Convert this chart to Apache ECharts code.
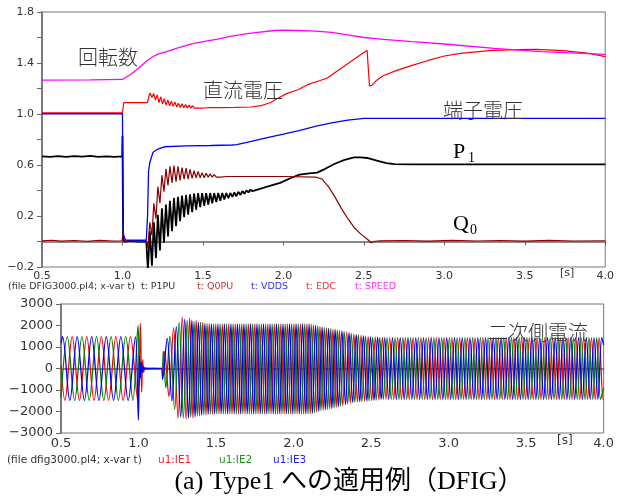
<!DOCTYPE html>
<html><head><meta charset="utf-8">
<script src="https://cdn.jsdelivr.net/npm/echarts@6/dist/echarts.min.js"></script>
<style>html,body{margin:0;padding:0;background:#fff}#c{width:617px;height:497px}</style>
</head><body><div id="c"></div>
<script>
// ---- top chart data: [t (s), value (pu)] ----
const p1pu = [[0.5,0.668],[0.55,0.664],[0.6,0.67],[0.65,0.663],[0.7,0.669],[0.75,0.665],[0.8,0.671],[0.85,0.664],[0.9,0.668],[0.95,0.663],[0.998,0.668],[1.0,0.83],[1.004,0.05],[1.01,0.0],[1.05,0.005],[1.1,0.0],[1.148,0.0],
[1.158,-0.22],[1.17,0.08],[1.183,-0.19],[1.195,0.15],[1.208,-0.13],[1.22,0.21],[1.233,-0.07],[1.245,0.26],[1.258,-0.01],[1.27,0.29],[1.283,0.04],[1.295,0.32],[1.308,0.08],[1.32,0.34],[1.333,0.12],[1.345,0.35],[1.358,0.16],[1.37,0.36],[1.383,0.19],[1.395,0.365],[1.408,0.21],[1.42,0.37],[1.433,0.23],[1.445,0.375],[1.458,0.25],[1.47,0.38],[1.483,0.27],[1.495,0.38],[1.508,0.28],[1.52,0.38],[1.533,0.29],[1.545,0.38],[1.558,0.30],[1.57,0.38],[1.583,0.31],[1.595,0.38],[1.608,0.32],[1.62,0.38],[1.633,0.33],[1.645,0.38],[1.658,0.34],[1.67,0.38],[1.683,0.35],[1.695,0.385],[1.708,0.355],[1.72,0.39],[1.733,0.365],[1.745,0.395],[1.758,0.375],[1.77,0.40],[1.783,0.385],[1.795,0.405],[1.808,0.395],[1.82,0.41],
[1.9,0.43],[1.98,0.46],[2.05,0.5],[2.1,0.525],[2.16,0.535],[2.21,0.54],[2.26,0.57],[2.32,0.61],[2.38,0.64],[2.44,0.66],[2.48,0.66],[2.52,0.655],[2.58,0.635],[2.64,0.615],[2.69,0.607],[2.8,0.605],[3.0,0.605],[3.5,0.605],[4.0,0.605]];
const q0pu = [[0.5,0.005],[0.56,0.01],[0.62,0.003],[0.7,0.008],[0.78,0.002],[0.86,0.009],[0.94,0.004],[0.998,0.006],[1.001,0.05],[1.005,0.0],[1.05,0.005],[1.1,0.0],[1.15,0.0],
[1.158,-0.05],[1.17,0.15],[1.183,0.05],[1.195,0.30],[1.208,0.18],[1.22,0.43],[1.233,0.30],[1.245,0.52],[1.258,0.39],[1.27,0.57],[1.283,0.44],[1.295,0.59],[1.308,0.46],[1.32,0.595],[1.333,0.47],[1.345,0.59],[1.358,0.48],[1.37,0.58],[1.383,0.49],[1.395,0.575],[1.408,0.49],[1.42,0.565],[1.433,0.495],[1.445,0.555],[1.458,0.50],[1.47,0.55],[1.483,0.50],[1.495,0.54],[1.508,0.50],[1.52,0.535],[1.533,0.505],[1.545,0.53],[1.558,0.505],[1.57,0.525],[1.583,0.505],[1.595,0.52],[1.608,0.505],[1.62,0.518],[1.65,0.51],
[1.8,0.51],[2.0,0.51],[2.2,0.505],[2.24,0.49],[2.28,0.43],[2.32,0.35],[2.36,0.26],[2.4,0.18],[2.44,0.11],[2.48,0.06],[2.52,0.02],[2.545,-0.01],[2.56,0.0],[2.6,0.005],[2.75,0.008],[2.9,0.003],[3.05,0.009],[3.2,0.004],[3.35,0.008],[3.5,0.003],[3.65,0.009],[3.8,0.004],[4.0,0.006]];
const vdds = [[0.5,1.002],[1.0,1.002],[1.003,0.3],[1.006,0.06],[1.012,0.03],[1.02,0.012],[1.08,0.01],[1.148,0.01],[1.156,0.2],[1.162,0.55],[1.17,0.62],[1.19,0.70],[1.22,0.725],[1.26,0.743],[1.4,0.75],[1.55,0.753],[1.68,0.757],[1.71,0.76],[1.8,0.785],[1.9,0.815],[2.0,0.842],[2.09,0.867],[2.21,0.906],[2.3,0.93],[2.4,0.952],[2.5,0.966],[3.0,0.966],[4.0,0.966]];
const edc = [[0.5,1.01],[1.0,1.01],[1.004,1.01],[1.008,1.09],[1.1,1.09],[1.155,1.09],[1.165,1.14],
[1.172,1.165],[1.183,1.13],[1.194,1.16],[1.205,1.11],[1.216,1.15],[1.227,1.09],[1.238,1.135],[1.249,1.08],[1.26,1.12],[1.271,1.07],[1.282,1.11],[1.293,1.065],[1.304,1.10],[1.315,1.06],[1.326,1.095],[1.337,1.055],[1.348,1.085],[1.359,1.05],[1.37,1.08],[1.381,1.05],[1.392,1.075],[1.403,1.048],[1.414,1.07],[1.425,1.046],[1.436,1.065],[1.447,1.046],[1.458,1.06],[1.469,1.046],[1.48,1.058],[1.491,1.046],[1.502,1.055],[1.513,1.047],[1.524,1.053],[1.54,1.05],
[1.6,1.05],[1.7,1.052],[1.8,1.055],[1.86,1.065],[1.92,1.09],[1.96,1.12],[2.02,1.16],[2.09,1.19],[2.15,1.23],[2.21,1.255],[2.27,1.28],[2.52,1.50],[2.535,1.22],[2.55,1.225],[2.58,1.265],[2.62,1.30],[2.7,1.34],[2.81,1.385],[2.9,1.42],[3.0,1.455],[3.1,1.475],[3.28,1.497],[3.45,1.505],[3.57,1.507],[3.74,1.497],[3.9,1.475],[4.0,1.45]];
const speed = [[0.5,1.265],[0.8,1.268],[1.0,1.271],[1.008,1.272],[1.05,1.31],[1.1,1.358],[1.15,1.415],[1.183,1.445],[1.22,1.47],[1.264,1.486],[1.35,1.52],[1.43,1.55],[1.51,1.57],[1.6,1.59],[1.676,1.61],[1.8,1.635],[1.944,1.655],[2.0,1.658],[2.09,1.655],[2.2,1.65],[2.3,1.64],[2.4,1.62],[2.5,1.60],[2.62,1.586],[2.8,1.567],[3.0,1.549],[3.31,1.515],[3.6,1.49],[4.0,1.468]];

// ---- bottom chart data: rotor currents, [t (s), A] extrema ----
const ie1 = [[0.5,150],[0.525,-1480],[0.572,1480],[0.619,-1480],[0.666,1480],[0.713,-1480],[0.76,1480],[0.807,-1480],[0.854,1480],[0.901,-1480],[0.948,1480],[0.995,-1480],[1.012,2100],[1.02,-1100],[1.027,400],[1.033,-200],[1.04,50],[1.05,0],[1.1,10],[1.15,0],
[1.155,-300],[1.168,800],[1.196,-1300],[1.226,1900],[1.255,-2300],[1.282,2400],[1.307,-2350],[1.33,2350],[1.351,-2300],[1.372,2250],[1.393,-2200],[1.414,2150],[1.435,-2150],[1.456,2100],[1.477,-2120],
[1.498,2080],[1.519,-2110],[1.54,2080],[1.561,-2110],[1.582,2080],[1.603,-2110],[1.624,2080],[1.645,-2110],[1.666,2080],[1.687,-2110],[1.708,2080],[1.729,-2110],[1.75,2080],[1.771,-2110],[1.792,2080],[1.813,-2110],[1.834,2080],[1.855,-2110],[1.876,2080],[1.897,-2110],[1.918,2080],[1.939,-2110],[1.96,2080],[1.981,-2110],[2.002,2080],[2.023,-2110],[2.044,2080],[2.065,-2110],[2.086,2080],[2.107,-2100],[2.128,2040],[2.149,-2030],[2.17,1960],[2.191,-1940],[2.212,1890],[2.233,-1880],[2.254,1830],[2.275,-1810],[2.296,1775],[2.317,-1720],[2.343,1690],[2.366,-1610],[2.389,1600],[2.412,-1550],[2.435,1540],[2.458,-1515],[2.481,1485],[2.504,-1490],[2.527,1458],[2.55,-1450],[2.573,1445],[2.596,-1430],[2.62,1440],
[2.646,-1430],[2.671,1440],[2.696,-1430],[2.721,1440],[2.746,-1430],[2.771,1440],[2.796,-1430],[2.821,1440],[2.846,-1430],[2.871,1440],[2.896,-1430],[2.921,1440],[2.946,-1430],[2.971,1440],[2.996,-1430],[3.021,1440],[3.046,-1430],[3.071,1440],[3.096,-1430],[3.121,1440],[3.146,-1430],[3.171,1440],[3.196,-1430],[3.221,1440],[3.246,-1430],[3.271,1440],[3.296,-1430],[3.321,1440],[3.346,-1430],[3.371,1440],[3.396,-1430],[3.421,1440],[3.446,-1430],[3.471,1440],[3.496,-1430],[3.521,1440],[3.546,-1430],[3.571,1440],[3.596,-1430],[3.621,1440],[3.646,-1430],[3.671,1440],[3.696,-1430],[3.721,1440],[3.746,-1430],[3.771,1440],[3.796,-1430],[3.821,1440],[3.846,-1430],[3.871,1440],[3.896,-1430],[3.921,1440],[3.946,-1430],[3.971,1440],[3.996,-1430],[4.0,-1400]];
const ie2 = [[0.5,-1360],[0.541,1480],[0.588,-1480],[0.635,1480],[0.682,-1480],[0.729,1480],[0.776,-1480],[0.823,1480],[0.87,-1480],[0.917,1480],[0.964,-1480],[0.997,2000],[1.005,-800],[1.012,300],[1.02,-100],[1.03,0],[1.1,-10],[1.15,0],
[1.16,800],[1.176,-900],[1.203,1500],[1.233,-1900],[1.262,2150],[1.289,-2300],[1.314,2250],[1.337,-2250],[1.358,2200],[1.379,-2200],[1.4,2150],[1.421,-2150],[1.442,2100],[1.463,-2120],
[1.484,2080],[1.505,-2110],[1.526,2080],[1.547,-2110],[1.568,2080],[1.589,-2110],[1.61,2080],[1.631,-2110],[1.652,2080],[1.673,-2110],[1.694,2080],[1.715,-2110],[1.736,2080],[1.757,-2110],[1.778,2080],[1.799,-2110],[1.82,2080],[1.841,-2110],[1.862,2080],[1.883,-2110],[1.904,2080],[1.925,-2110],[1.946,2080],[1.967,-2110],[1.988,2080],[2.009,-2110],[2.03,2080],[2.051,-2110],[2.072,2080],[2.093,-2110],[2.114,2060],[2.135,-2060],[2.156,1990],[2.177,-1960],[2.198,1910],[2.219,-1900],[2.24,1850],[2.261,-1830],[2.282,1795],[2.303,-1750],[2.326,1720],[2.349,-1650],[2.372,1630],[2.395,-1565],[2.418,1560],[2.441,-1530],[2.464,1500],[2.487,-1500],[2.51,1462],[2.533,-1465],[2.556,1450],[2.579,-1430],[2.603,1440],
[2.63,-1430],[2.655,1440],[2.68,-1430],[2.705,1440],[2.73,-1430],[2.755,1440],[2.78,-1430],[2.805,1440],[2.83,-1430],[2.855,1440],[2.88,-1430],[2.905,1440],[2.93,-1430],[2.955,1440],[2.98,-1430],[3.005,1440],[3.03,-1430],[3.055,1440],[3.08,-1430],[3.105,1440],[3.13,-1430],[3.155,1440],[3.18,-1430],[3.205,1440],[3.23,-1430],[3.255,1440],[3.28,-1430],[3.305,1440],[3.33,-1430],[3.355,1440],[3.38,-1430],[3.405,1440],[3.43,-1430],[3.455,1440],[3.48,-1430],[3.505,1440],[3.53,-1430],[3.555,1440],[3.58,-1430],[3.605,1440],[3.63,-1430],[3.655,1440],[3.68,-1430],[3.705,1440],[3.73,-1430],[3.755,1440],[3.78,-1430],[3.805,1440],[3.83,-1430],[3.855,1440],[3.88,-1430],[3.905,1440],[3.93,-1430],[3.955,1440],[3.98,-1430],[4.0,-900]];
const ie3 = [[0.5,1170],[0.51,1480],[0.557,-1480],[0.604,1480],[0.651,-1480],[0.698,1480],[0.745,-1480],[0.792,1480],[0.839,-1480],[0.886,1480],[0.933,-1480],[0.98,1480],[0.999,-2400],[1.006,600],[1.012,-450],[1.018,300],[1.024,-180],[1.03,100],[1.036,-50],[1.045,0],[1.1,10],[1.15,0],
[1.155,-500],[1.185,1400],[1.215,-1500],[1.244,1950],[1.272,-2250],[1.298,2300],[1.322,-2300],[1.344,2250],[1.365,-2250],[1.386,2150],[1.407,-2180],[1.428,2100],[1.449,-2130],
[1.47,2080],[1.491,-2110],[1.512,2080],[1.533,-2110],[1.554,2080],[1.575,-2110],[1.596,2080],[1.617,-2110],[1.638,2080],[1.659,-2110],[1.68,2080],[1.701,-2110],[1.722,2080],[1.743,-2110],[1.764,2080],[1.785,-2110],[1.806,2080],[1.827,-2110],[1.848,2080],[1.869,-2110],[1.89,2080],[1.911,-2110],[1.932,2080],[1.953,-2110],[1.974,2080],[1.995,-2110],[2.016,2080],[2.037,-2110],[2.058,2080],[2.079,-2110],[2.1,2070],[2.121,-2090],[2.142,2010],[2.163,-1990],[2.184,1930],[2.205,-1920],[2.226,1870],[2.247,-1860],[2.268,1815],[2.289,-1780],[2.312,1750],[2.335,-1680],[2.358,1660],[2.381,-1580],[2.404,1580],[2.427,-1540],[2.45,1520],[2.473,-1510],[2.496,1470],[2.519,-1480],[2.542,1455],[2.565,-1440],[2.588,1440],
[2.613,-1430],[2.638,1440],[2.663,-1430],[2.688,1440],[2.713,-1430],[2.738,1440],[2.763,-1430],[2.788,1440],[2.813,-1430],[2.838,1440],[2.863,-1430],[2.888,1440],[2.913,-1430],[2.938,1440],[2.963,-1430],[2.988,1440],[3.013,-1430],[3.038,1440],[3.063,-1430],[3.088,1440],[3.113,-1430],[3.138,1440],[3.163,-1430],[3.188,1440],[3.213,-1430],[3.238,1440],[3.263,-1430],[3.288,1440],[3.313,-1430],[3.338,1440],[3.363,-1430],[3.388,1440],[3.413,-1430],[3.438,1440],[3.463,-1430],[3.488,1440],[3.513,-1430],[3.538,1440],[3.563,-1430],[3.588,1440],[3.613,-1430],[3.638,1440],[3.663,-1430],[3.688,1440],[3.713,-1430],[3.738,1440],[3.763,-1430],[3.788,1440],[3.813,-1430],[3.838,1440],[3.863,-1430],[3.888,1440],[3.913,-1430],[3.938,1440],[3.963,-1430],[3.988,1440],[4.0,1100]];

// ---- texts ----
const topLegend = [
  {text:'(file DFIG3000.pl4; x-var t)  t: P1PU', x:8, color:'#333'},
  {text:'t: Q0PU', x:197, color:'#c83232'},
  {text:'t: VDDS', x:251, color:'#3232ff'},
  {text:'t: EDC', x:306, color:'#ff3232'},
  {text:'t: SPEED', x:355, color:'#ff32ff'}
];
const botLegend = [
  {text:'(file dfig3000.pl4; x-var t)', x:7, color:'#333'},
  {text:'u1:IE1', x:158, color:'#ff2020'},
  {text:'u1:IE2', x:219, color:'#209020'},
  {text:'u1:IE3', x:273, color:'#2020ff'}
];
const annotations = [
  {text:'回転数', x:78, y:57},
  {text:'直流電圧', x:203, y:90},
  {text:'端子電圧', x:443, y:110},
  {text:'二次側電流', x:488, y:332}
];
const caption = '(a) Type1 への適用例（DFIG）';

const chart = echarts.init(document.getElementById('c'), null, {renderer:'canvas'});
const axisLine = {lineStyle:{color:'#666', width:1.5}};
const tickFont = 'DejaVu Sans';
const lineS = (name, data, color, w, xi, smooth) => ({
  name, type:'line', data, xAxisIndex:xi, yAxisIndex:xi, showSymbol:false, symbol:'none',
  smooth: smooth || false, lineStyle:{color, width:w}, itemStyle:{color}, animation:false, silent:true
});

const graphic = [];
topLegend.forEach(l => graphic.push({type:'text', x:l.x, y:287, style:{text:l.text, fill:l.color, font:'9.5px "DejaVu Sans"', verticalAlign:'middle'}}));
botLegend.forEach(l => graphic.push({type:'text', x:l.x, y:460, style:{text:l.text, fill:l.color, font:'10.5px "DejaVu Sans"', verticalAlign:'middle'}}));
annotations.forEach(a => graphic.push({type:'text', x:a.x, y:a.y, z:10, style:{text:a.text, fill:'#333', font:'300 20px "Noto Sans CJK JP"', verticalAlign:'middle'}}));
graphic.push({type:'text', x:453, y:152, style:{text:'P', fill:'#000', font:'22px "Liberation Serif"', verticalAlign:'middle'}});
graphic.push({type:'text', x:468, y:158, style:{text:'1', fill:'#000', font:'14px "Liberation Serif"', verticalAlign:'middle'}});
graphic.push({type:'text', x:453, y:224, style:{text:'Q', fill:'#000', font:'22px "Liberation Serif"', verticalAlign:'middle'}});
graphic.push({type:'text', x:470, y:230, style:{text:'0', fill:'#000', font:'14px "Liberation Serif"', verticalAlign:'middle'}});
graphic.push({type:'text', x:560, y:273, style:{text:'[s]', fill:'#333', font:'11px "DejaVu Sans"', verticalAlign:'middle'}});
graphic.push({type:'text', x:557, y:441, style:{text:'[s]', fill:'#333', font:'12px "DejaVu Sans"', verticalAlign:'middle'}});
graphic.push({type:'text', x:349, y:482, style:{text:caption, fill:'#000', font:'26px "Liberation Serif", "Noto Sans CJK JP"', align:'center', verticalAlign:'middle'}});

chart.setOption({
  animation:false,
  backgroundColor:'#fff',
  grid:[
    {left:42, right:7, top:12, height:255, show:true, borderColor:'#777', borderWidth:1, backgroundColor:'transparent'},
    {left:61, right:10, top:304, height:129, show:true, borderColor:'#777', borderWidth:1, backgroundColor:'transparent'}
  ],
  xAxis:[
    {type:'value', gridIndex:0, min:0.5, max:4.0, interval:0.5, axisLine, splitLine:{show:false},
     axisTick:{inside:false, length:4, lineStyle:{color:'#666'}},
     axisLabel:{formatter:v=>v.toFixed(1), fontSize:11, color:'#333', fontFamily:tickFont, margin:4, showMaxLabel:true, showMinLabel:true}},
    {type:'value', gridIndex:1, min:0.5, max:4.0, interval:0.5, axisLine, splitLine:{show:false},
     axisTick:{inside:false, length:4, lineStyle:{color:'#666'}},
     axisLabel:{formatter:v=>v.toFixed(1), fontSize:13, color:'#333', fontFamily:tickFont, margin:4, showMaxLabel:true, showMinLabel:true}}
  ],
  yAxis:[
    {type:'value', gridIndex:0, min:-0.2, max:1.8, interval:0.2, axisLine:{show:true, ...axisLine}, splitLine:{show:false},
     axisTick:{show:true, length:5, lineStyle:{color:'#666'}},
     axisLabel:{fontSize:11, color:'#333', fontFamily:tickFont, margin:8,
       formatter:v=>{const k=Math.round((v+0.2)*10); return k%4===0 ? (v<0?'\u2212':'')+Math.abs(v).toFixed(1) : '';}}},
    {type:'value', gridIndex:1, min:-3000, max:3000, interval:1000, axisLine:{show:true, ...axisLine}, splitLine:{show:false},
     axisTick:{show:true, length:5, lineStyle:{color:'#666'}},
     axisLabel:{fontSize:13, color:'#333', fontFamily:tickFont, margin:8,
       formatter:v=> v<0 ? '\u2212'+Math.abs(v) : String(v)}}
  ],
  series:[
    lineS('P1PU', p1pu, '#000000', 1.8, 0),
    lineS('Q0PU', q0pu, '#8b0000', 1.2, 0),
    lineS('VDDS', vdds, '#0000ff', 1.3, 0),
    lineS('EDC', edc, '#ff0000', 1.2, 0),
    lineS('SPEED', speed, '#ff00ff', 1.3, 0),
    lineS('IE1', ie1, '#ff0000', 1.3, 1, 0.35),
    lineS('IE2', ie2, '#008000', 1.3, 1, 0.35),
    lineS('IE3', ie3, '#0000ff', 1.3, 1, 0.35)
  ],
  graphic
});
</script></body></html>
